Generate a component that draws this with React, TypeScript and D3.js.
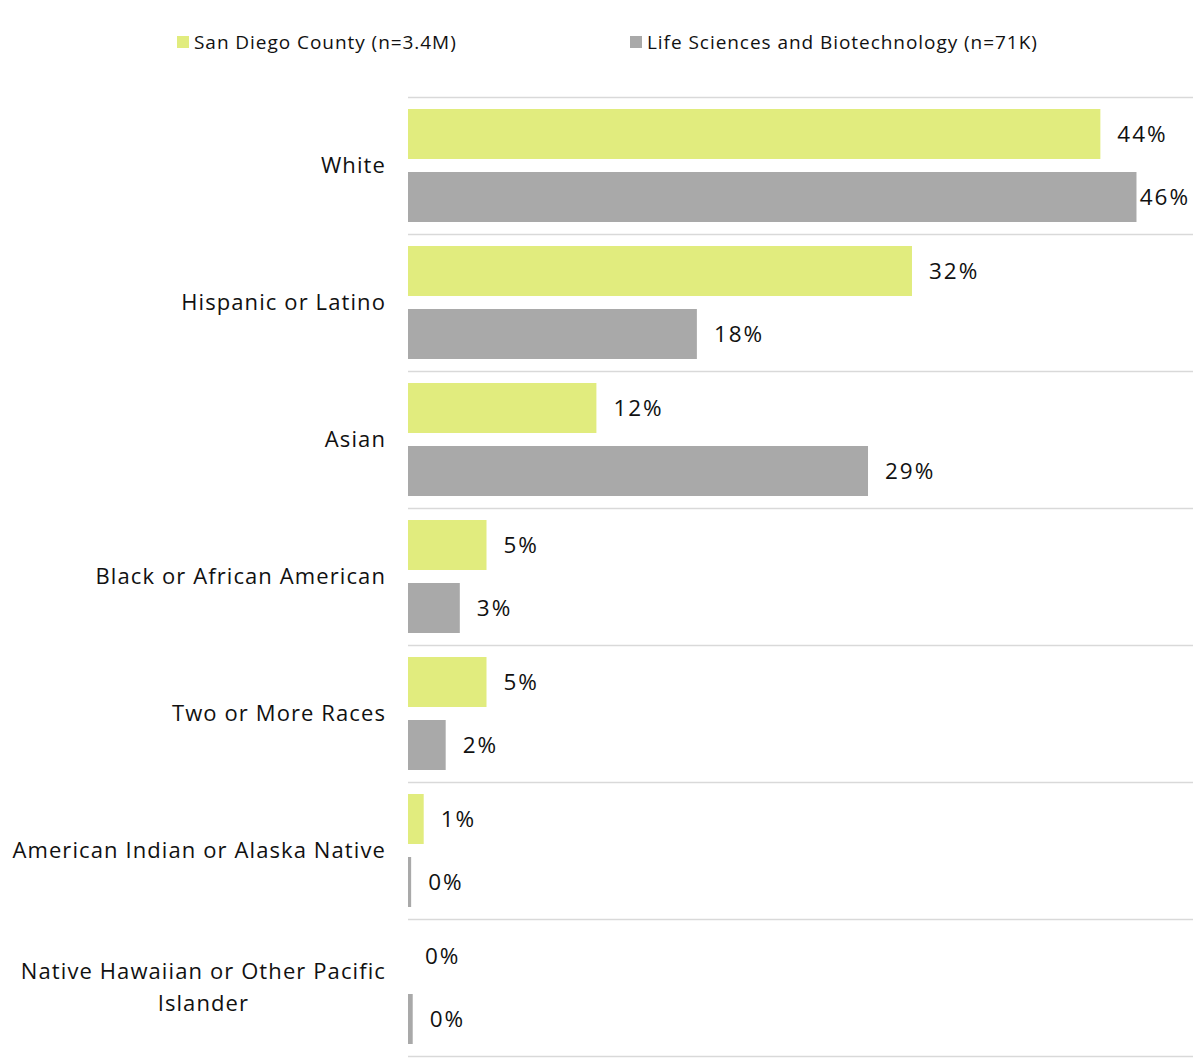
import React, { useEffect, useRef } from "react";
import * as d3 from "d3";

const categories = [
  "White",
  "Hispanic or Latino",
  "Asian",
  "Black or African American",
  "Two or More Races",
  "American Indian or Alaska Native",
  "Native Hawaiian or Other Pacific Islander",
];
const seriesNames = ["San Diego County (n=3.4M)", "Life Sciences and Biotechnology (n=71K)"];
const sanDiego = [44.1, 32.1, 12.0, 5.0, 5.0, 1.0, 0.0];
const lifeSci = [46.4, 18.4, 29.3, 3.3, 2.4, 0.2, 0.3];
const colors = ["#e1ec7e", "#a9a9a9"];

const W = 1193;
const H = 1061;
const FONT = "'Open Sans', 'DejaVu Sans', sans-serif";

export default function App() {
  const ref = useRef<SVGSVGElement>(null);

  useEffect(() => {
    document.body.style.margin = "0";
    document.body.style.overflow = "hidden";
    const svg = d3.select(ref.current);
    svg.selectAll("*").remove();

    const left = 408;
    const right = W;
    const top = 97;
    const bottom = 1056;

    const x = d3.scaleLinear().domain([0, 50]).range([left, right]);
    const y = d3.scaleBand<string>().domain(categories).range([top, bottom]).paddingInner(0).paddingOuter(0);
    const sub = d3
      .scaleBand<number>()
      .domain([0, 1])
      .range([0, y.bandwidth()])
      .paddingInner(13 / 63)
      .paddingOuter(12 / 63);

    // gridlines
    const lines = categories.map((c) => y(c)!).concat([bottom]);
    svg
      .append("g")
      .selectAll("line")
      .data(lines)
      .join("line")
      .attr("x1", left)
      .attr("x2", right)
      .attr("y1", (d) => d + 0.5)
      .attr("y2", (d) => d + 0.5)
      .attr("stroke", "#d9d9d9")
      .attr("stroke-width", 1.5);

    const series = [sanDiego, lifeSci];
    series.forEach((vals, si) => {
      const g = svg.append("g");
      vals.forEach((v, i) => {
        const yy = y(categories[i])! + sub(si)!;
        const x1 = x(v);
        g.append("rect")
          .attr("x", left)
          .attr("y", yy)
          .attr("width", x1 - left)
          .attr("height", sub.bandwidth())
          .attr("fill", colors[si]);
        const t = g
          .append("text")
          .attr("x", x1 + 17)
          .attr("y", yy + sub.bandwidth() / 2)
          .attr("dy", "0.35em")
          .attr("font-family", FONT)
          .attr("font-size", 22.5)
          .attr("letter-spacing", 2)
          .attr("fill", "#111")
          .text(`${Math.round(v)}%`);
        const node = t.node() as SVGTextElement;
        const tw = node.getComputedTextLength() - 2;
        if (x1 + 17 + tw > W - 5) {
          t.attr("x", W - 5 - tw);
        }
      });
    });

    // category labels
    categories.forEach((c) => {
      const cy = y(c)! + y.bandwidth() / 2;
      if (c.startsWith("Native Hawaiian")) {
        const lns = ["Native Hawaiian or Other Pacific", "Islander"];
        const t = svg
          .append("text")
          .attr("font-family", FONT)
          .attr("font-size", 22)
          .attr("letter-spacing", 1.1)
          .attr("fill", "#111")
          .attr("text-anchor", "end")
          .attr("x", 386)
          .attr("y", cy - 16)
          .attr("dy", "0.35em")
          .text(lns[0]);
        const w0 = (t.node() as SVGTextElement).getComputedTextLength();
        svg
          .append("text")
          .attr("font-family", FONT)
          .attr("font-size", 22)
          .attr("letter-spacing", 1.1)
          .attr("fill", "#111")
          .attr("text-anchor", "middle")
          .attr("x", 386 - w0 / 2)
          .attr("y", cy + 16)
          .attr("dy", "0.35em")
          .text(lns[1]);
      } else {
        svg
          .append("text")
          .attr("font-family", FONT)
          .attr("font-size", 22)
          .attr("letter-spacing", 1.1)
          .attr("fill", "#111")
          .attr("text-anchor", "end")
          .attr("x", 386)
          .attr("y", cy)
          .attr("dy", "0.35em")
          .text(c);
      }
    });

    // legend
    const legendX = [177, 630];
    seriesNames.forEach((n, i) => {
      svg
        .append("rect")
        .attr("x", legendX[i])
        .attr("y", 36)
        .attr("width", 12)
        .attr("height", 12)
        .attr("fill", colors[i]);
      svg
        .append("text")
        .attr("x", legendX[i] + 17)
        .attr("y", 42)
        .attr("dy", "0.35em")
        .attr("font-family", FONT)
        .attr("font-size", 19)
        .attr("letter-spacing", 0.95)
        .attr("fill", "#111")
        .text(n);
    });
  }, []);

  return (
    <div style={{ position: "fixed", left: 0, top: 0, width: W, height: H, background: "#fff" }}>
      <svg ref={ref} width={W} height={H} style={{ display: "block" }} />
    </div>
  );
}
